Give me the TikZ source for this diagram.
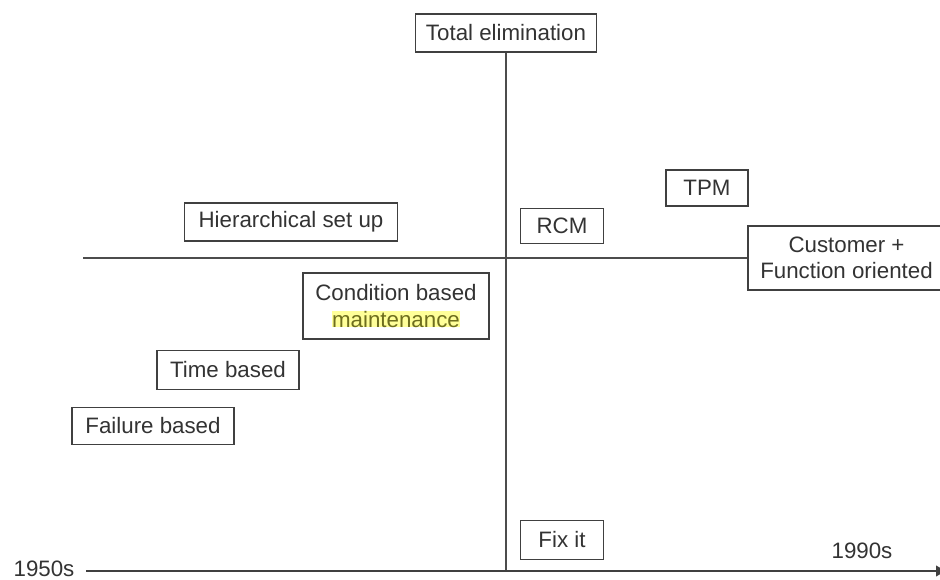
\documentclass[tikz,border=0pt]{standalone}
\usepackage{fontspec}
\setmainfont{Liberation Sans}
\usetikzlibrary{
  arrows.meta,
  positioning
}
\definecolor{hilite}{HTML}{FFFF99}
\definecolor{hilitetext}{HTML}{6E6E1E}

\begin{document}
\begin{tikzpicture}[
  font=\fontsize{12.7}{15}\selectfont,
  era/.style={
    rectangle, draw=black!75, line width=0.9pt, fill=white,
    text=black!80, inner sep=0pt, align=center
  },
  axis/.style={black!70, line width=0.8pt},
  timeline/.style={black!75, line width=1.6pt, -{Latex[length=2.3mm,width=2.4mm]}},
  yearlabel/.style={text=black!80, inner sep=0pt},
]
\useasboundingbox (0,0) rectangle (18.8,11.58);

% Axis end points
\coordinate (hleft) at (1.66, 6.42);
\coordinate (tstart) at (1.72, 0.16);
\coordinate (tend) at (18.95, 0.16);
\coordinate (vfoot) at (10.12, 0.16);

% Top and right boxes
\node[era, minimum width=3.62cm, minimum height=0.76cm] (totalelim) at (10.12, 10.92)
  {Total elimination};
\node[era, minimum width=1.64cm, minimum height=0.72cm] (tpm) at (14.14, 7.82) {TPM};
\node[era, minimum width=1.66cm, minimum height=0.70cm] (rcm) at (11.24, 7.06) {RCM};
\node[era, minimum width=4.26cm, minimum height=0.76cm] (hier) at (5.82, 7.14)
  {Hierarchical set up};
\node[era, minimum width=3.94cm, minimum height=1.28cm] (cust) at (16.93, 6.42)
  {Customer +\\Function oriented};

% Cross lines
\draw[axis] (totalelim.south) -- (vfoot);
\draw[axis] (hleft) -- (cust.west);

% Lower boxes
\node[era, minimum width=3.72cm, minimum height=1.32cm] (cbm) at (7.92, 5.46)
  {Condition based\\{\setlength{\fboxsep}{0pt}\colorbox{hilite}{\color{hilitetext}maintenance}}};
\node[era, minimum width=2.84cm, minimum height=0.78cm] (timeb) at (4.56, 4.18) {Time based};
\node[era, minimum width=3.24cm, minimum height=0.74cm] (failb) at (3.06, 3.06) {Failure based};
\node[era, minimum width=1.66cm, minimum height=0.78cm] (fixit) at (11.24, 0.78) {Fix it};

% Time axis
\draw[timeline] (tstart) -- (tend);
\node[yearlabel] (y1950) at (0.88, 0.20) {1950s};
\node[yearlabel] (y1990) at (17.24, 0.56) {1990s};

\end{tikzpicture}
\end{document}
